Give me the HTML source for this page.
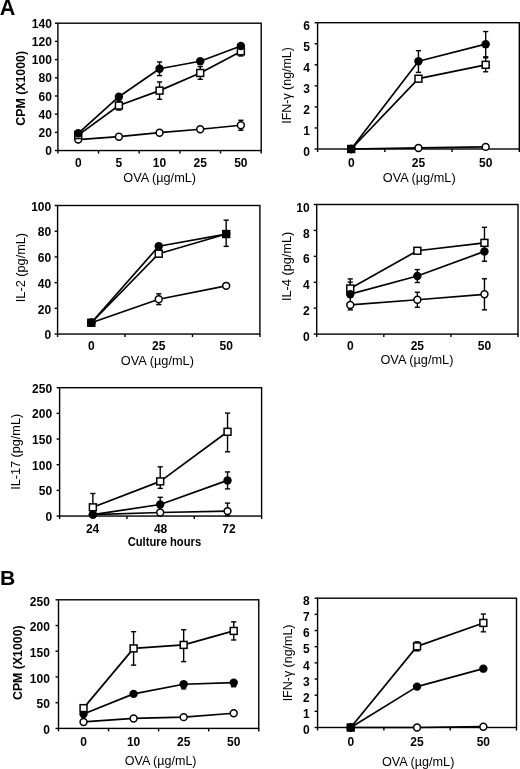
<!DOCTYPE html>
<html><head><meta charset="utf-8"><style>
html,body{margin:0;padding:0;background:#fff;overflow:hidden;}
svg{display:block;filter:grayscale(1);}
text{font-family:"Liberation Sans", sans-serif;fill:#000;}
</style></head><body>
<svg width="520" height="769" viewBox="0 0 520 769">
<text x="51.90" y="155.25" font-size="12" font-weight="bold" text-anchor="end">0</text>
<text x="51.90" y="137.06" font-size="12" font-weight="bold" text-anchor="end">20</text>
<text x="51.90" y="118.86" font-size="12" font-weight="bold" text-anchor="end">40</text>
<text x="51.90" y="100.67" font-size="12" font-weight="bold" text-anchor="end">60</text>
<text x="51.90" y="82.48" font-size="12" font-weight="bold" text-anchor="end">80</text>
<text x="51.90" y="64.29" font-size="12" font-weight="bold" text-anchor="end">100</text>
<text x="51.90" y="46.09" font-size="12" font-weight="bold" text-anchor="end">120</text>
<text x="51.90" y="27.90" font-size="12" font-weight="bold" text-anchor="end">140</text>
<text x="78.23" y="167.20" font-size="12" font-weight="bold" text-anchor="middle">0</text>
<text x="118.89" y="167.20" font-size="12" font-weight="bold" text-anchor="middle">5</text>
<text x="159.55" y="167.20" font-size="12" font-weight="bold" text-anchor="middle">10</text>
<text x="200.21" y="167.20" font-size="12" font-weight="bold" text-anchor="middle">25</text>
<text x="240.87" y="167.20" font-size="12" font-weight="bold" text-anchor="middle">50</text>
<text x="123.26" y="182.40" font-size="12" textLength="72.79" lengthAdjust="spacingAndGlyphs">OVA (µg/mL)</text>
<text x="24.60" y="125.71" font-size="12" font-weight="bold" transform="rotate(-90 24.60 125.71)" textLength="74.82" lengthAdjust="spacingAndGlyphs">CPM (X1000)</text>
<rect x="57.90" y="23.20" width="203.30" height="127.35" fill="none" stroke="#000" stroke-width="1.4"/>
<line x1="54.90" y1="150.55" x2="57.90" y2="150.55" stroke="#000" stroke-width="1.4"/>
<line x1="54.90" y1="132.36" x2="57.90" y2="132.36" stroke="#000" stroke-width="1.4"/>
<line x1="54.90" y1="114.16" x2="57.90" y2="114.16" stroke="#000" stroke-width="1.4"/>
<line x1="54.90" y1="95.97" x2="57.90" y2="95.97" stroke="#000" stroke-width="1.4"/>
<line x1="54.90" y1="77.78" x2="57.90" y2="77.78" stroke="#000" stroke-width="1.4"/>
<line x1="54.90" y1="59.59" x2="57.90" y2="59.59" stroke="#000" stroke-width="1.4"/>
<line x1="54.90" y1="41.39" x2="57.90" y2="41.39" stroke="#000" stroke-width="1.4"/>
<line x1="54.90" y1="23.20" x2="57.90" y2="23.20" stroke="#000" stroke-width="1.4"/>
<line x1="57.90" y1="150.55" x2="57.90" y2="153.55" stroke="#000" stroke-width="1.4"/>
<line x1="98.56" y1="150.55" x2="98.56" y2="153.55" stroke="#000" stroke-width="1.4"/>
<line x1="139.22" y1="150.55" x2="139.22" y2="153.55" stroke="#000" stroke-width="1.4"/>
<line x1="179.88" y1="150.55" x2="179.88" y2="153.55" stroke="#000" stroke-width="1.4"/>
<line x1="220.54" y1="150.55" x2="220.54" y2="153.55" stroke="#000" stroke-width="1.4"/>
<line x1="261.20" y1="150.55" x2="261.20" y2="153.55" stroke="#000" stroke-width="1.4"/>
<path d="M78.23,139.54 L118.89,136.72 L159.55,132.72 L200.21,129.26 L240.87,125.26" fill="none" stroke="#000" stroke-width="1.7" stroke-linejoin="round"/>
<path d="M78.23,135.09 L118.89,105.52 L159.55,90.60 L200.21,72.96 L240.87,51.40" fill="none" stroke="#000" stroke-width="1.7" stroke-linejoin="round"/>
<path d="M78.23,133.27 L118.89,96.70 L159.55,68.77 L200.21,61.22 L240.87,45.94" fill="none" stroke="#000" stroke-width="1.7" stroke-linejoin="round"/>
<line x1="240.87" y1="120.26" x2="240.87" y2="130.26" stroke="#000" stroke-width="1.4"/>
<line x1="238.27" y1="120.26" x2="243.47" y2="120.26" stroke="#000" stroke-width="1.4"/>
<line x1="238.27" y1="130.26" x2="243.47" y2="130.26" stroke="#000" stroke-width="1.4"/>
<line x1="118.89" y1="100.97" x2="118.89" y2="110.07" stroke="#000" stroke-width="1.4"/>
<line x1="116.29" y1="100.97" x2="121.49" y2="100.97" stroke="#000" stroke-width="1.4"/>
<line x1="116.29" y1="110.07" x2="121.49" y2="110.07" stroke="#000" stroke-width="1.4"/>
<line x1="159.55" y1="81.96" x2="159.55" y2="99.25" stroke="#000" stroke-width="1.4"/>
<line x1="156.95" y1="81.96" x2="162.15" y2="81.96" stroke="#000" stroke-width="1.4"/>
<line x1="156.95" y1="99.25" x2="162.15" y2="99.25" stroke="#000" stroke-width="1.4"/>
<line x1="200.21" y1="66.59" x2="200.21" y2="79.32" stroke="#000" stroke-width="1.4"/>
<line x1="197.61" y1="66.59" x2="202.81" y2="66.59" stroke="#000" stroke-width="1.4"/>
<line x1="197.61" y1="79.32" x2="202.81" y2="79.32" stroke="#000" stroke-width="1.4"/>
<line x1="240.87" y1="46.85" x2="240.87" y2="55.95" stroke="#000" stroke-width="1.4"/>
<line x1="238.27" y1="46.85" x2="243.47" y2="46.85" stroke="#000" stroke-width="1.4"/>
<line x1="238.27" y1="55.95" x2="243.47" y2="55.95" stroke="#000" stroke-width="1.4"/>
<line x1="159.55" y1="61.95" x2="159.55" y2="75.60" stroke="#000" stroke-width="1.4"/>
<line x1="156.95" y1="61.95" x2="162.15" y2="61.95" stroke="#000" stroke-width="1.4"/>
<line x1="156.95" y1="75.60" x2="162.15" y2="75.60" stroke="#000" stroke-width="1.4"/>
<circle cx="78.23" cy="139.54" r="3.45" fill="#fff" stroke="#000" stroke-width="1.5"/>
<circle cx="118.89" cy="136.72" r="3.45" fill="#fff" stroke="#000" stroke-width="1.5"/>
<circle cx="159.55" cy="132.72" r="3.45" fill="#fff" stroke="#000" stroke-width="1.5"/>
<circle cx="200.21" cy="129.26" r="3.45" fill="#fff" stroke="#000" stroke-width="1.5"/>
<circle cx="240.87" cy="125.26" r="3.45" fill="#fff" stroke="#000" stroke-width="1.5"/>
<rect x="74.78" y="131.64" width="6.90" height="6.90" fill="#fff" stroke="#000" stroke-width="1.5"/>
<rect x="115.44" y="102.07" width="6.90" height="6.90" fill="#fff" stroke="#000" stroke-width="1.5"/>
<rect x="156.10" y="87.15" width="6.90" height="6.90" fill="#fff" stroke="#000" stroke-width="1.5"/>
<rect x="196.76" y="69.51" width="6.90" height="6.90" fill="#fff" stroke="#000" stroke-width="1.5"/>
<rect x="237.42" y="47.95" width="6.90" height="6.90" fill="#fff" stroke="#000" stroke-width="1.5"/>
<circle cx="78.23" cy="133.27" r="4.2" fill="#000"/>
<circle cx="118.89" cy="96.70" r="4.2" fill="#000"/>
<circle cx="159.55" cy="68.77" r="4.2" fill="#000"/>
<circle cx="200.21" cy="61.22" r="4.2" fill="#000"/>
<circle cx="240.87" cy="45.94" r="4.2" fill="#000"/>
<text x="309.90" y="156.20" font-size="12" font-weight="bold" text-anchor="end">0</text>
<text x="309.90" y="135.15" font-size="12" font-weight="bold" text-anchor="end">1</text>
<text x="309.90" y="114.10" font-size="12" font-weight="bold" text-anchor="end">2</text>
<text x="309.90" y="93.05" font-size="12" font-weight="bold" text-anchor="end">3</text>
<text x="309.90" y="72.00" font-size="12" font-weight="bold" text-anchor="end">4</text>
<text x="309.90" y="50.95" font-size="12" font-weight="bold" text-anchor="end">5</text>
<text x="309.90" y="29.90" font-size="12" font-weight="bold" text-anchor="end">6</text>
<text x="351.22" y="167.20" font-size="12" font-weight="bold" text-anchor="middle">0</text>
<text x="418.45" y="167.20" font-size="12" font-weight="bold" text-anchor="middle">25</text>
<text x="485.68" y="167.20" font-size="12" font-weight="bold" text-anchor="middle">50</text>
<text x="382.76" y="182.40" font-size="12" textLength="72.89" lengthAdjust="spacingAndGlyphs">OVA (µg/mL)</text>
<text x="290.70" y="123.74" font-size="12" transform="rotate(-90 290.70 123.74)" textLength="76.67" lengthAdjust="spacingAndGlyphs">IFN-γ (ng/mL)</text>
<rect x="317.60" y="22.70" width="201.70" height="126.30" fill="none" stroke="#000" stroke-width="1.4"/>
<line x1="314.60" y1="149.00" x2="317.60" y2="149.00" stroke="#000" stroke-width="1.4"/>
<line x1="314.60" y1="127.95" x2="317.60" y2="127.95" stroke="#000" stroke-width="1.4"/>
<line x1="314.60" y1="106.90" x2="317.60" y2="106.90" stroke="#000" stroke-width="1.4"/>
<line x1="314.60" y1="85.85" x2="317.60" y2="85.85" stroke="#000" stroke-width="1.4"/>
<line x1="314.60" y1="64.80" x2="317.60" y2="64.80" stroke="#000" stroke-width="1.4"/>
<line x1="314.60" y1="43.75" x2="317.60" y2="43.75" stroke="#000" stroke-width="1.4"/>
<line x1="314.60" y1="22.70" x2="317.60" y2="22.70" stroke="#000" stroke-width="1.4"/>
<line x1="317.60" y1="149.00" x2="317.60" y2="152.00" stroke="#000" stroke-width="1.4"/>
<line x1="384.83" y1="149.00" x2="384.83" y2="152.00" stroke="#000" stroke-width="1.4"/>
<line x1="452.07" y1="149.00" x2="452.07" y2="152.00" stroke="#000" stroke-width="1.4"/>
<line x1="519.30" y1="149.00" x2="519.30" y2="152.00" stroke="#000" stroke-width="1.4"/>
<path d="M351.22,149.00 L418.45,147.95 L485.68,146.90" fill="none" stroke="#000" stroke-width="1.7" stroke-linejoin="round"/>
<path d="M351.22,149.00 L418.45,78.69 L485.68,64.80" fill="none" stroke="#000" stroke-width="1.7" stroke-linejoin="round"/>
<path d="M351.22,149.00 L418.45,61.22 L485.68,44.17" fill="none" stroke="#000" stroke-width="1.7" stroke-linejoin="round"/>
<line x1="418.45" y1="76.59" x2="418.45" y2="80.80" stroke="#000" stroke-width="1.4"/>
<line x1="415.85" y1="76.59" x2="421.05" y2="76.59" stroke="#000" stroke-width="1.4"/>
<line x1="415.85" y1="80.80" x2="421.05" y2="80.80" stroke="#000" stroke-width="1.4"/>
<line x1="485.68" y1="57.85" x2="485.68" y2="71.75" stroke="#000" stroke-width="1.4"/>
<line x1="483.08" y1="57.85" x2="488.28" y2="57.85" stroke="#000" stroke-width="1.4"/>
<line x1="483.08" y1="71.75" x2="488.28" y2="71.75" stroke="#000" stroke-width="1.4"/>
<line x1="418.45" y1="50.70" x2="418.45" y2="72.38" stroke="#000" stroke-width="1.4"/>
<line x1="415.85" y1="50.70" x2="421.05" y2="50.70" stroke="#000" stroke-width="1.4"/>
<line x1="415.85" y1="72.38" x2="421.05" y2="72.38" stroke="#000" stroke-width="1.4"/>
<line x1="485.68" y1="31.54" x2="485.68" y2="56.80" stroke="#000" stroke-width="1.4"/>
<line x1="483.08" y1="31.54" x2="488.28" y2="31.54" stroke="#000" stroke-width="1.4"/>
<line x1="483.08" y1="56.80" x2="488.28" y2="56.80" stroke="#000" stroke-width="1.4"/>
<circle cx="351.22" cy="149.00" r="3.45" fill="#fff" stroke="#000" stroke-width="1.5"/>
<circle cx="418.45" cy="147.95" r="3.45" fill="#fff" stroke="#000" stroke-width="1.5"/>
<circle cx="485.68" cy="146.90" r="3.45" fill="#fff" stroke="#000" stroke-width="1.5"/>
<rect x="347.77" y="145.55" width="6.90" height="6.90" fill="#fff" stroke="#000" stroke-width="1.5"/>
<rect x="415.00" y="75.24" width="6.90" height="6.90" fill="#fff" stroke="#000" stroke-width="1.5"/>
<rect x="482.23" y="61.35" width="6.90" height="6.90" fill="#fff" stroke="#000" stroke-width="1.5"/>
<circle cx="351.22" cy="149.00" r="4.2" fill="#000"/>
<circle cx="418.45" cy="61.22" r="4.2" fill="#000"/>
<circle cx="485.68" cy="44.17" r="4.2" fill="#000"/>
<text x="51.20" y="339.25" font-size="12" font-weight="bold" text-anchor="end">0</text>
<text x="51.20" y="313.54" font-size="12" font-weight="bold" text-anchor="end">20</text>
<text x="51.20" y="287.83" font-size="12" font-weight="bold" text-anchor="end">40</text>
<text x="51.20" y="262.12" font-size="12" font-weight="bold" text-anchor="end">60</text>
<text x="51.20" y="236.41" font-size="12" font-weight="bold" text-anchor="end">80</text>
<text x="51.20" y="210.70" font-size="12" font-weight="bold" text-anchor="end">100</text>
<text x="91.32" y="349.90" font-size="12" font-weight="bold" text-anchor="middle">0</text>
<text x="158.75" y="349.90" font-size="12" font-weight="bold" text-anchor="middle">25</text>
<text x="226.18" y="349.90" font-size="12" font-weight="bold" text-anchor="middle">50</text>
<text x="120.86" y="364.80" font-size="12" textLength="73.10" lengthAdjust="spacingAndGlyphs">OVA (µg/mL)</text>
<text x="24.60" y="302.17" font-size="12" transform="rotate(-90 24.60 302.17)" textLength="69.27" lengthAdjust="spacingAndGlyphs">IL-2 (pg/mL)</text>
<rect x="57.60" y="205.50" width="202.30" height="128.55" fill="none" stroke="#000" stroke-width="1.4"/>
<line x1="54.60" y1="334.05" x2="57.60" y2="334.05" stroke="#000" stroke-width="1.4"/>
<line x1="54.60" y1="308.34" x2="57.60" y2="308.34" stroke="#000" stroke-width="1.4"/>
<line x1="54.60" y1="282.63" x2="57.60" y2="282.63" stroke="#000" stroke-width="1.4"/>
<line x1="54.60" y1="256.92" x2="57.60" y2="256.92" stroke="#000" stroke-width="1.4"/>
<line x1="54.60" y1="231.21" x2="57.60" y2="231.21" stroke="#000" stroke-width="1.4"/>
<line x1="54.60" y1="205.50" x2="57.60" y2="205.50" stroke="#000" stroke-width="1.4"/>
<line x1="57.60" y1="334.05" x2="57.60" y2="337.05" stroke="#000" stroke-width="1.4"/>
<line x1="125.03" y1="334.05" x2="125.03" y2="337.05" stroke="#000" stroke-width="1.4"/>
<line x1="192.47" y1="334.05" x2="192.47" y2="337.05" stroke="#000" stroke-width="1.4"/>
<line x1="259.90" y1="334.05" x2="259.90" y2="337.05" stroke="#000" stroke-width="1.4"/>
<path d="M91.32,322.74 L158.75,299.21 L226.18,285.84" fill="none" stroke="#000" stroke-width="1.7" stroke-linejoin="round"/>
<path d="M91.32,322.74 L158.75,253.71 L226.18,234.04" fill="none" stroke="#000" stroke-width="1.7" stroke-linejoin="round"/>
<path d="M91.32,322.74 L158.75,246.25 L226.18,234.04" fill="none" stroke="#000" stroke-width="1.7" stroke-linejoin="round"/>
<line x1="158.75" y1="293.81" x2="158.75" y2="304.61" stroke="#000" stroke-width="1.4"/>
<line x1="156.15" y1="293.81" x2="161.35" y2="293.81" stroke="#000" stroke-width="1.4"/>
<line x1="156.15" y1="304.61" x2="161.35" y2="304.61" stroke="#000" stroke-width="1.4"/>
<line x1="226.18" y1="220.15" x2="226.18" y2="246.38" stroke="#000" stroke-width="1.4"/>
<line x1="223.58" y1="220.15" x2="228.78" y2="220.15" stroke="#000" stroke-width="1.4"/>
<line x1="223.58" y1="246.38" x2="228.78" y2="246.38" stroke="#000" stroke-width="1.4"/>
<circle cx="91.32" cy="322.74" r="3.45" fill="#fff" stroke="#000" stroke-width="1.5"/>
<circle cx="158.75" cy="299.21" r="3.45" fill="#fff" stroke="#000" stroke-width="1.5"/>
<circle cx="226.18" cy="285.84" r="3.45" fill="#fff" stroke="#000" stroke-width="1.5"/>
<rect x="87.87" y="319.29" width="6.90" height="6.90" fill="#fff" stroke="#000" stroke-width="1.5"/>
<rect x="155.30" y="250.26" width="6.90" height="6.90" fill="#fff" stroke="#000" stroke-width="1.5"/>
<rect x="222.73" y="230.59" width="6.90" height="6.90" fill="#fff" stroke="#000" stroke-width="1.5"/>
<circle cx="91.32" cy="322.74" r="4.2" fill="#000"/>
<circle cx="158.75" cy="246.25" r="4.2" fill="#000"/>
<circle cx="226.18" cy="234.04" r="4.2" fill="#000"/>
<text x="309.70" y="341.20" font-size="12" font-weight="bold" text-anchor="end">0</text>
<text x="309.70" y="315.28" font-size="12" font-weight="bold" text-anchor="end">2</text>
<text x="309.70" y="289.36" font-size="12" font-weight="bold" text-anchor="end">4</text>
<text x="309.70" y="263.44" font-size="12" font-weight="bold" text-anchor="end">6</text>
<text x="309.70" y="237.52" font-size="12" font-weight="bold" text-anchor="end">8</text>
<text x="309.70" y="211.60" font-size="12" font-weight="bold" text-anchor="end">10</text>
<text x="350.25" y="349.90" font-size="12" font-weight="bold" text-anchor="middle">0</text>
<text x="417.35" y="349.90" font-size="12" font-weight="bold" text-anchor="middle">25</text>
<text x="484.45" y="349.90" font-size="12" font-weight="bold" text-anchor="middle">50</text>
<text x="380.46" y="364.40" font-size="12" textLength="73.00" lengthAdjust="spacingAndGlyphs">OVA (µg/mL)</text>
<text x="291.40" y="300.96" font-size="12" transform="rotate(-90 291.40 300.96)" textLength="69.16" lengthAdjust="spacingAndGlyphs">IL-4 (pg/mL)</text>
<rect x="316.70" y="204.50" width="201.30" height="129.60" fill="none" stroke="#000" stroke-width="1.4"/>
<line x1="313.70" y1="334.10" x2="316.70" y2="334.10" stroke="#000" stroke-width="1.4"/>
<line x1="313.70" y1="308.18" x2="316.70" y2="308.18" stroke="#000" stroke-width="1.4"/>
<line x1="313.70" y1="282.26" x2="316.70" y2="282.26" stroke="#000" stroke-width="1.4"/>
<line x1="313.70" y1="256.34" x2="316.70" y2="256.34" stroke="#000" stroke-width="1.4"/>
<line x1="313.70" y1="230.42" x2="316.70" y2="230.42" stroke="#000" stroke-width="1.4"/>
<line x1="313.70" y1="204.50" x2="316.70" y2="204.50" stroke="#000" stroke-width="1.4"/>
<line x1="316.70" y1="334.10" x2="316.70" y2="337.10" stroke="#000" stroke-width="1.4"/>
<line x1="383.80" y1="334.10" x2="383.80" y2="337.10" stroke="#000" stroke-width="1.4"/>
<line x1="450.90" y1="334.10" x2="450.90" y2="337.10" stroke="#000" stroke-width="1.4"/>
<line x1="518.00" y1="334.10" x2="518.00" y2="337.10" stroke="#000" stroke-width="1.4"/>
<path d="M350.25,304.94 L417.35,299.76 L484.45,294.31" fill="none" stroke="#000" stroke-width="1.7" stroke-linejoin="round"/>
<path d="M350.25,294.18 L417.35,276.04 L484.45,251.42" fill="none" stroke="#000" stroke-width="1.7" stroke-linejoin="round"/>
<path d="M350.25,288.48 L417.35,250.77 L484.45,242.86" fill="none" stroke="#000" stroke-width="1.7" stroke-linejoin="round"/>
<line x1="350.25" y1="304.94" x2="350.25" y2="309.86" stroke="#000" stroke-width="1.4"/>
<line x1="347.65" y1="309.86" x2="352.85" y2="309.86" stroke="#000" stroke-width="1.4"/>
<line x1="417.35" y1="292.24" x2="417.35" y2="307.27" stroke="#000" stroke-width="1.4"/>
<line x1="414.75" y1="292.24" x2="419.95" y2="292.24" stroke="#000" stroke-width="1.4"/>
<line x1="414.75" y1="307.27" x2="419.95" y2="307.27" stroke="#000" stroke-width="1.4"/>
<line x1="484.45" y1="278.76" x2="484.45" y2="309.86" stroke="#000" stroke-width="1.4"/>
<line x1="481.85" y1="278.76" x2="487.05" y2="278.76" stroke="#000" stroke-width="1.4"/>
<line x1="481.85" y1="309.86" x2="487.05" y2="309.86" stroke="#000" stroke-width="1.4"/>
<line x1="350.25" y1="282.13" x2="350.25" y2="306.24" stroke="#000" stroke-width="1.4"/>
<line x1="347.65" y1="282.13" x2="352.85" y2="282.13" stroke="#000" stroke-width="1.4"/>
<line x1="347.65" y1="306.24" x2="352.85" y2="306.24" stroke="#000" stroke-width="1.4"/>
<line x1="417.35" y1="269.56" x2="417.35" y2="282.52" stroke="#000" stroke-width="1.4"/>
<line x1="414.75" y1="269.56" x2="419.95" y2="269.56" stroke="#000" stroke-width="1.4"/>
<line x1="414.75" y1="282.52" x2="419.95" y2="282.52" stroke="#000" stroke-width="1.4"/>
<line x1="484.45" y1="241.57" x2="484.45" y2="261.26" stroke="#000" stroke-width="1.4"/>
<line x1="481.85" y1="241.57" x2="487.05" y2="241.57" stroke="#000" stroke-width="1.4"/>
<line x1="481.85" y1="261.26" x2="487.05" y2="261.26" stroke="#000" stroke-width="1.4"/>
<line x1="350.25" y1="278.89" x2="350.25" y2="288.48" stroke="#000" stroke-width="1.4"/>
<line x1="347.65" y1="278.89" x2="352.85" y2="278.89" stroke="#000" stroke-width="1.4"/>
<line x1="484.45" y1="227.31" x2="484.45" y2="242.86" stroke="#000" stroke-width="1.4"/>
<line x1="481.85" y1="227.31" x2="487.05" y2="227.31" stroke="#000" stroke-width="1.4"/>
<circle cx="350.25" cy="304.94" r="3.45" fill="#fff" stroke="#000" stroke-width="1.5"/>
<circle cx="417.35" cy="299.76" r="3.45" fill="#fff" stroke="#000" stroke-width="1.5"/>
<circle cx="484.45" cy="294.31" r="3.45" fill="#fff" stroke="#000" stroke-width="1.5"/>
<rect x="346.80" y="285.03" width="6.90" height="6.90" fill="#fff" stroke="#000" stroke-width="1.5"/>
<rect x="413.90" y="247.32" width="6.90" height="6.90" fill="#fff" stroke="#000" stroke-width="1.5"/>
<rect x="481.00" y="239.41" width="6.90" height="6.90" fill="#fff" stroke="#000" stroke-width="1.5"/>
<circle cx="350.25" cy="294.18" r="4.2" fill="#000"/>
<circle cx="417.35" cy="276.04" r="4.2" fill="#000"/>
<circle cx="484.45" cy="251.42" r="4.2" fill="#000"/>
<text x="52.10" y="521.15" font-size="12" font-weight="bold" text-anchor="end">0</text>
<text x="52.10" y="495.48" font-size="12" font-weight="bold" text-anchor="end">50</text>
<text x="52.10" y="469.81" font-size="12" font-weight="bold" text-anchor="end">100</text>
<text x="52.10" y="444.14" font-size="12" font-weight="bold" text-anchor="end">150</text>
<text x="52.10" y="418.47" font-size="12" font-weight="bold" text-anchor="end">200</text>
<text x="52.10" y="392.80" font-size="12" font-weight="bold" text-anchor="end">250</text>
<text x="92.60" y="532.50" font-size="12" font-weight="bold" text-anchor="middle">24</text>
<text x="160.60" y="532.50" font-size="12" font-weight="bold" text-anchor="middle">48</text>
<text x="228.90" y="532.50" font-size="12" font-weight="bold" text-anchor="middle">72</text>
<text x="127.63" y="546.30" font-size="12" font-weight="bold" textLength="73.51" lengthAdjust="spacingAndGlyphs">Culture hours</text>
<text x="20.50" y="489.86" font-size="12" transform="rotate(-90 20.50 489.86)" textLength="76.03" lengthAdjust="spacingAndGlyphs">IL-17 (pg/mL)</text>
<rect x="59.60" y="387.70" width="202.00" height="128.35" fill="none" stroke="#000" stroke-width="1.4"/>
<line x1="56.60" y1="516.05" x2="59.60" y2="516.05" stroke="#000" stroke-width="1.4"/>
<line x1="56.60" y1="490.38" x2="59.60" y2="490.38" stroke="#000" stroke-width="1.4"/>
<line x1="56.60" y1="464.71" x2="59.60" y2="464.71" stroke="#000" stroke-width="1.4"/>
<line x1="56.60" y1="439.04" x2="59.60" y2="439.04" stroke="#000" stroke-width="1.4"/>
<line x1="56.60" y1="413.37" x2="59.60" y2="413.37" stroke="#000" stroke-width="1.4"/>
<line x1="56.60" y1="387.70" x2="59.60" y2="387.70" stroke="#000" stroke-width="1.4"/>
<line x1="59.60" y1="516.05" x2="59.60" y2="519.05" stroke="#000" stroke-width="1.4"/>
<line x1="126.93" y1="516.05" x2="126.93" y2="519.05" stroke="#000" stroke-width="1.4"/>
<line x1="194.27" y1="516.05" x2="194.27" y2="519.05" stroke="#000" stroke-width="1.4"/>
<line x1="261.60" y1="516.05" x2="261.60" y2="519.05" stroke="#000" stroke-width="1.4"/>
<path d="M92.87,514.61 L160.20,512.51 L227.53,511.12" fill="none" stroke="#000" stroke-width="1.7" stroke-linejoin="round"/>
<path d="M92.87,514.61 L160.20,504.50 L227.53,480.42" fill="none" stroke="#000" stroke-width="1.7" stroke-linejoin="round"/>
<path d="M92.87,507.32 L160.20,481.40 L227.53,431.80" fill="none" stroke="#000" stroke-width="1.7" stroke-linejoin="round"/>
<line x1="227.53" y1="503.11" x2="227.53" y2="515.74" stroke="#000" stroke-width="1.4"/>
<line x1="224.93" y1="503.11" x2="230.13" y2="503.11" stroke="#000" stroke-width="1.4"/>
<line x1="224.93" y1="515.74" x2="230.13" y2="515.74" stroke="#000" stroke-width="1.4"/>
<line x1="160.20" y1="497.31" x2="160.20" y2="511.69" stroke="#000" stroke-width="1.4"/>
<line x1="157.60" y1="497.31" x2="162.80" y2="497.31" stroke="#000" stroke-width="1.4"/>
<line x1="157.60" y1="511.69" x2="162.80" y2="511.69" stroke="#000" stroke-width="1.4"/>
<line x1="227.53" y1="471.95" x2="227.53" y2="488.89" stroke="#000" stroke-width="1.4"/>
<line x1="224.93" y1="471.95" x2="230.13" y2="471.95" stroke="#000" stroke-width="1.4"/>
<line x1="224.93" y1="488.89" x2="230.13" y2="488.89" stroke="#000" stroke-width="1.4"/>
<line x1="92.87" y1="493.51" x2="92.87" y2="507.32" stroke="#000" stroke-width="1.4"/>
<line x1="90.27" y1="493.51" x2="95.47" y2="493.51" stroke="#000" stroke-width="1.4"/>
<line x1="160.20" y1="466.81" x2="160.20" y2="488.38" stroke="#000" stroke-width="1.4"/>
<line x1="157.60" y1="466.81" x2="162.80" y2="466.81" stroke="#000" stroke-width="1.4"/>
<line x1="157.60" y1="488.38" x2="162.80" y2="488.38" stroke="#000" stroke-width="1.4"/>
<line x1="227.53" y1="413.11" x2="227.53" y2="451.82" stroke="#000" stroke-width="1.4"/>
<line x1="224.93" y1="413.11" x2="230.13" y2="413.11" stroke="#000" stroke-width="1.4"/>
<line x1="224.93" y1="451.82" x2="230.13" y2="451.82" stroke="#000" stroke-width="1.4"/>
<circle cx="92.87" cy="514.61" r="3.45" fill="#fff" stroke="#000" stroke-width="1.5"/>
<circle cx="160.20" cy="512.51" r="3.45" fill="#fff" stroke="#000" stroke-width="1.5"/>
<circle cx="227.53" cy="511.12" r="3.45" fill="#fff" stroke="#000" stroke-width="1.5"/>
<circle cx="92.87" cy="514.61" r="4.2" fill="#000"/>
<circle cx="160.20" cy="504.50" r="4.2" fill="#000"/>
<circle cx="227.53" cy="480.42" r="4.2" fill="#000"/>
<rect x="89.42" y="503.87" width="6.90" height="6.90" fill="#fff" stroke="#000" stroke-width="1.5"/>
<rect x="156.75" y="477.95" width="6.90" height="6.90" fill="#fff" stroke="#000" stroke-width="1.5"/>
<rect x="224.08" y="428.35" width="6.90" height="6.90" fill="#fff" stroke="#000" stroke-width="1.5"/>
<text x="49.90" y="734.20" font-size="12" font-weight="bold" text-anchor="end">0</text>
<text x="49.90" y="708.48" font-size="12" font-weight="bold" text-anchor="end">50</text>
<text x="49.90" y="682.76" font-size="12" font-weight="bold" text-anchor="end">100</text>
<text x="49.90" y="657.04" font-size="12" font-weight="bold" text-anchor="end">150</text>
<text x="49.90" y="631.32" font-size="12" font-weight="bold" text-anchor="end">200</text>
<text x="49.90" y="605.60" font-size="12" font-weight="bold" text-anchor="end">250</text>
<text x="83.53" y="745.80" font-size="12" font-weight="bold" text-anchor="middle">0</text>
<text x="133.59" y="745.80" font-size="12" font-weight="bold" text-anchor="middle">10</text>
<text x="183.66" y="745.80" font-size="12" font-weight="bold" text-anchor="middle">25</text>
<text x="233.72" y="745.80" font-size="12" font-weight="bold" text-anchor="middle">50</text>
<text x="124.77" y="764.80" font-size="12" textLength="71.77" lengthAdjust="spacingAndGlyphs">OVA (µg/mL)</text>
<text x="22.10" y="700.01" font-size="12" font-weight="bold" transform="rotate(-90 22.10 700.01)" textLength="74.62" lengthAdjust="spacingAndGlyphs">CPM (X1000)</text>
<rect x="58.50" y="599.80" width="200.25" height="128.60" fill="none" stroke="#000" stroke-width="1.4"/>
<line x1="55.50" y1="728.40" x2="58.50" y2="728.40" stroke="#000" stroke-width="1.4"/>
<line x1="55.50" y1="702.68" x2="58.50" y2="702.68" stroke="#000" stroke-width="1.4"/>
<line x1="55.50" y1="676.96" x2="58.50" y2="676.96" stroke="#000" stroke-width="1.4"/>
<line x1="55.50" y1="651.24" x2="58.50" y2="651.24" stroke="#000" stroke-width="1.4"/>
<line x1="55.50" y1="625.52" x2="58.50" y2="625.52" stroke="#000" stroke-width="1.4"/>
<line x1="55.50" y1="599.80" x2="58.50" y2="599.80" stroke="#000" stroke-width="1.4"/>
<line x1="58.50" y1="728.40" x2="58.50" y2="731.40" stroke="#000" stroke-width="1.4"/>
<line x1="108.56" y1="728.40" x2="108.56" y2="731.40" stroke="#000" stroke-width="1.4"/>
<line x1="158.62" y1="728.40" x2="158.62" y2="731.40" stroke="#000" stroke-width="1.4"/>
<line x1="208.69" y1="728.40" x2="208.69" y2="731.40" stroke="#000" stroke-width="1.4"/>
<line x1="258.75" y1="728.40" x2="258.75" y2="731.40" stroke="#000" stroke-width="1.4"/>
<path d="M83.53,721.97 L133.59,718.47 L183.66,717.13 L233.72,713.23" fill="none" stroke="#000" stroke-width="1.7" stroke-linejoin="round"/>
<path d="M83.53,714.00 L133.59,693.88 L183.66,684.26 L233.72,682.62" fill="none" stroke="#000" stroke-width="1.7" stroke-linejoin="round"/>
<path d="M83.53,708.13 L133.59,648.41 L183.66,644.91 L233.72,630.92" fill="none" stroke="#000" stroke-width="1.7" stroke-linejoin="round"/>
<line x1="183.66" y1="684.26" x2="183.66" y2="688.89" stroke="#000" stroke-width="1.4"/>
<line x1="181.06" y1="688.89" x2="186.26" y2="688.89" stroke="#000" stroke-width="1.4"/>
<line x1="233.72" y1="682.62" x2="233.72" y2="686.73" stroke="#000" stroke-width="1.4"/>
<line x1="231.12" y1="686.73" x2="236.32" y2="686.73" stroke="#000" stroke-width="1.4"/>
<line x1="133.59" y1="631.69" x2="133.59" y2="665.13" stroke="#000" stroke-width="1.4"/>
<line x1="130.99" y1="631.69" x2="136.19" y2="631.69" stroke="#000" stroke-width="1.4"/>
<line x1="130.99" y1="665.13" x2="136.19" y2="665.13" stroke="#000" stroke-width="1.4"/>
<line x1="183.66" y1="629.74" x2="183.66" y2="661.63" stroke="#000" stroke-width="1.4"/>
<line x1="181.06" y1="629.74" x2="186.26" y2="629.74" stroke="#000" stroke-width="1.4"/>
<line x1="181.06" y1="661.63" x2="186.26" y2="661.63" stroke="#000" stroke-width="1.4"/>
<line x1="233.72" y1="621.87" x2="233.72" y2="639.97" stroke="#000" stroke-width="1.4"/>
<line x1="231.12" y1="621.87" x2="236.32" y2="621.87" stroke="#000" stroke-width="1.4"/>
<line x1="231.12" y1="639.97" x2="236.32" y2="639.97" stroke="#000" stroke-width="1.4"/>
<circle cx="83.53" cy="721.97" r="3.45" fill="#fff" stroke="#000" stroke-width="1.5"/>
<circle cx="133.59" cy="718.47" r="3.45" fill="#fff" stroke="#000" stroke-width="1.5"/>
<circle cx="183.66" cy="717.13" r="3.45" fill="#fff" stroke="#000" stroke-width="1.5"/>
<circle cx="233.72" cy="713.23" r="3.45" fill="#fff" stroke="#000" stroke-width="1.5"/>
<circle cx="83.53" cy="714.00" r="4.2" fill="#000"/>
<circle cx="133.59" cy="693.88" r="4.2" fill="#000"/>
<circle cx="183.66" cy="684.26" r="4.2" fill="#000"/>
<circle cx="233.72" cy="682.62" r="4.2" fill="#000"/>
<rect x="80.08" y="704.68" width="6.90" height="6.90" fill="#fff" stroke="#000" stroke-width="1.5"/>
<rect x="130.14" y="644.96" width="6.90" height="6.90" fill="#fff" stroke="#000" stroke-width="1.5"/>
<rect x="180.21" y="641.46" width="6.90" height="6.90" fill="#fff" stroke="#000" stroke-width="1.5"/>
<rect x="230.27" y="627.47" width="6.90" height="6.90" fill="#fff" stroke="#000" stroke-width="1.5"/>
<text x="309.70" y="734.30" font-size="12" font-weight="bold" text-anchor="end">0</text>
<text x="309.70" y="718.14" font-size="12" font-weight="bold" text-anchor="end">1</text>
<text x="309.70" y="701.98" font-size="12" font-weight="bold" text-anchor="end">2</text>
<text x="309.70" y="685.81" font-size="12" font-weight="bold" text-anchor="end">3</text>
<text x="309.70" y="669.65" font-size="12" font-weight="bold" text-anchor="end">4</text>
<text x="309.70" y="653.49" font-size="12" font-weight="bold" text-anchor="end">5</text>
<text x="309.70" y="637.33" font-size="12" font-weight="bold" text-anchor="end">6</text>
<text x="309.70" y="621.16" font-size="12" font-weight="bold" text-anchor="end">7</text>
<text x="309.70" y="605.00" font-size="12" font-weight="bold" text-anchor="end">8</text>
<text x="350.75" y="745.80" font-size="12" font-weight="bold" text-anchor="middle">0</text>
<text x="417.05" y="745.80" font-size="12" font-weight="bold" text-anchor="middle">25</text>
<text x="483.35" y="745.80" font-size="12" font-weight="bold" text-anchor="middle">50</text>
<text x="381.97" y="765.70" font-size="12" textLength="72.38" lengthAdjust="spacingAndGlyphs">OVA (µg/mL)</text>
<text x="291.90" y="701.34" font-size="12" transform="rotate(-90 291.90 701.34)" textLength="76.88" lengthAdjust="spacingAndGlyphs">IFN-γ (ng/mL)</text>
<rect x="317.60" y="598.20" width="198.90" height="129.30" fill="none" stroke="#000" stroke-width="1.4"/>
<line x1="314.60" y1="727.50" x2="317.60" y2="727.50" stroke="#000" stroke-width="1.4"/>
<line x1="314.60" y1="711.34" x2="317.60" y2="711.34" stroke="#000" stroke-width="1.4"/>
<line x1="314.60" y1="695.17" x2="317.60" y2="695.17" stroke="#000" stroke-width="1.4"/>
<line x1="314.60" y1="679.01" x2="317.60" y2="679.01" stroke="#000" stroke-width="1.4"/>
<line x1="314.60" y1="662.85" x2="317.60" y2="662.85" stroke="#000" stroke-width="1.4"/>
<line x1="314.60" y1="646.69" x2="317.60" y2="646.69" stroke="#000" stroke-width="1.4"/>
<line x1="314.60" y1="630.53" x2="317.60" y2="630.53" stroke="#000" stroke-width="1.4"/>
<line x1="314.60" y1="614.36" x2="317.60" y2="614.36" stroke="#000" stroke-width="1.4"/>
<line x1="314.60" y1="598.20" x2="317.60" y2="598.20" stroke="#000" stroke-width="1.4"/>
<line x1="317.60" y1="727.50" x2="317.60" y2="730.50" stroke="#000" stroke-width="1.4"/>
<line x1="383.90" y1="727.50" x2="383.90" y2="730.50" stroke="#000" stroke-width="1.4"/>
<line x1="450.20" y1="727.50" x2="450.20" y2="730.50" stroke="#000" stroke-width="1.4"/>
<line x1="516.50" y1="727.50" x2="516.50" y2="730.50" stroke="#000" stroke-width="1.4"/>
<path d="M350.75,727.50 L417.05,727.50 L483.35,726.69" fill="none" stroke="#000" stroke-width="1.7" stroke-linejoin="round"/>
<path d="M350.75,727.50 L417.05,646.36 L483.35,622.93" fill="none" stroke="#000" stroke-width="1.7" stroke-linejoin="round"/>
<path d="M350.75,727.50 L417.05,686.61 L483.35,668.67" fill="none" stroke="#000" stroke-width="1.7" stroke-linejoin="round"/>
<line x1="417.05" y1="641.84" x2="417.05" y2="650.89" stroke="#000" stroke-width="1.4"/>
<line x1="414.45" y1="641.84" x2="419.65" y2="641.84" stroke="#000" stroke-width="1.4"/>
<line x1="414.45" y1="650.89" x2="419.65" y2="650.89" stroke="#000" stroke-width="1.4"/>
<line x1="483.35" y1="614.04" x2="483.35" y2="631.82" stroke="#000" stroke-width="1.4"/>
<line x1="480.75" y1="614.04" x2="485.95" y2="614.04" stroke="#000" stroke-width="1.4"/>
<line x1="480.75" y1="631.82" x2="485.95" y2="631.82" stroke="#000" stroke-width="1.4"/>
<circle cx="350.75" cy="727.50" r="3.45" fill="#fff" stroke="#000" stroke-width="1.5"/>
<circle cx="417.05" cy="727.50" r="3.45" fill="#fff" stroke="#000" stroke-width="1.5"/>
<circle cx="483.35" cy="726.69" r="3.45" fill="#fff" stroke="#000" stroke-width="1.5"/>
<rect x="347.30" y="724.05" width="6.90" height="6.90" fill="#fff" stroke="#000" stroke-width="1.5"/>
<rect x="413.60" y="642.91" width="6.90" height="6.90" fill="#fff" stroke="#000" stroke-width="1.5"/>
<rect x="479.90" y="619.48" width="6.90" height="6.90" fill="#fff" stroke="#000" stroke-width="1.5"/>
<circle cx="350.75" cy="727.50" r="4.2" fill="#000"/>
<circle cx="417.05" cy="686.61" r="4.2" fill="#000"/>
<circle cx="483.35" cy="668.67" r="4.2" fill="#000"/>
<text x="-0.24" y="14.80" font-size="21.5" font-weight="bold" textLength="15.60" lengthAdjust="spacingAndGlyphs">A</text>
<text x="-0.11" y="585.20" font-size="20" font-weight="bold" textLength="15.32" lengthAdjust="spacingAndGlyphs">B</text>
</svg>
</body></html>
